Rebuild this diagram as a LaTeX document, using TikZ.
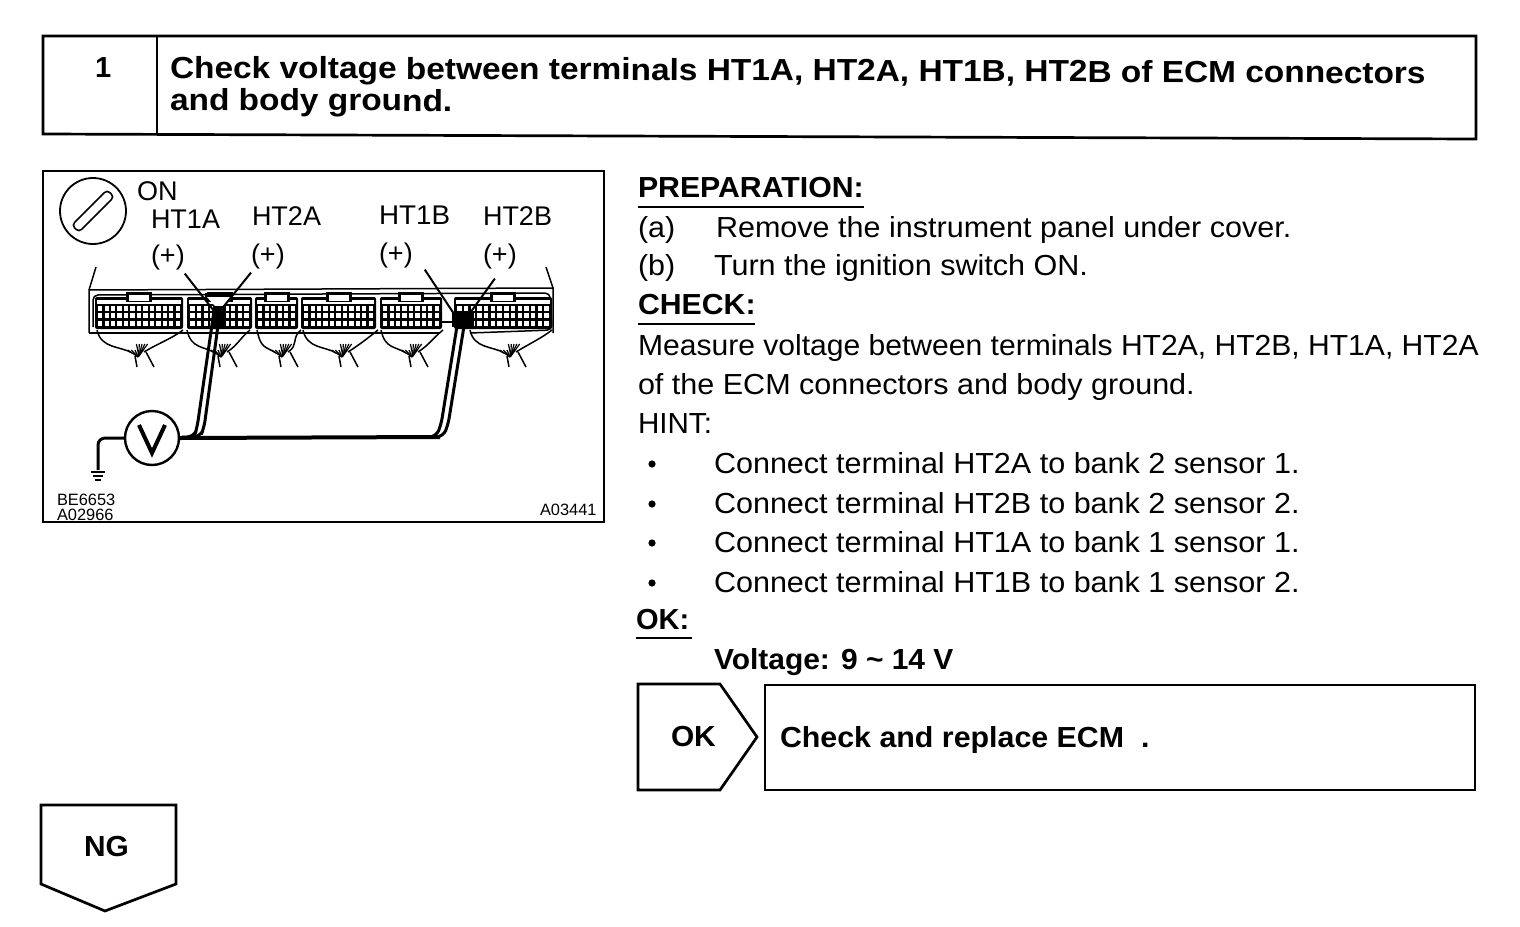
\documentclass[tikz,border=0pt]{standalone}
\usepackage{fontspec}
\setmainfont{Liberation Sans}
\newcommand{\bodyf}{\fontsize{29}{30}\selectfont}
\newcommand{\boldf}{\fontsize{29}{30}\selectfont\bfseries}
\newcommand{\titlef}{\fontsize{30.5}{32}\selectfont\bfseries}
\newcommand{\lblf}{\fontsize{27}{28}\selectfont}
\newcommand{\codef}{\fontsize{16.4}{17}\selectfont}
\newcommand{\wdn}[2]{\scalebox{#1}[1]{#2}}
\tikzset{
  frame/.style={draw=black,line width=2.7,line join=miter},
  txt/.style={anchor=base west,inner sep=0,outer sep=0,text=black},
  rule/.style={draw=black,line width=1.4},
  strand/.style={draw=black,line width=3,line cap=round},
  thin wire/.style={draw=black,line width=1.5},
  lead/.style={draw=black,line width=2},
  cell/.style={fill=white,draw=none}
}
\begin{document}
\begin{tikzpicture}[x=1pt,y=-1pt]
\useasboundingbox (0,0) rectangle (1520,926);
\fill[white] (0,0) rectangle (1520,926);
% header
\draw[frame] (43,36) -- (1476,36) -- (1476,139) -- (43,134) -- cycle;
\draw[frame] (157,36) -- (157,134);
\node[txt,font=\boldf] (num) at (95,77) {1};
\node[txt,font=\titlef,rotate=-0.25] (title1) at (170,78) {\wdn{1.096}{Check voltage between terminals HT1A, HT2A, HT1B, HT2B of ECM connectors}};
\node[txt,font=\titlef,rotate=-0.25] (title2) at (170,110) {\wdn{1.096}{and body ground.}};
% figure frame
\draw[frame] (43,171) rectangle (604,522);
\node[draw=black,circle,line width=1.8,minimum size=66,inner sep=0] (key) at (93,211) {};
\draw[black,line width=1.6,rounded corners=4,rotate around={45:(93,211)}] (68,206) rectangle (118,216);
\node[txt,font=\lblf] (on) at (137,200) {ON};
\node[txt,font=\lblf] (l1) at (151,228) {HT1A};
\node[txt,font=\lblf] (l2) at (252,225) {HT2A};
\node[txt,font=\lblf] (l3) at (379,224) {\wdn{1.03}{HT1B}};
\node[txt,font=\lblf] (l4) at (483,225) {HT2B};
\node[txt,font=\lblf] (p1) at (151,264) {(+)};
\node[txt,font=\lblf] (p2) at (251,263) {(+)};
\node[txt,font=\lblf] (p3) at (379,262) {(+)};
\node[txt,font=\lblf] (p4) at (483,263) {(+)};
% ECU outline
\draw[thin wire] (89,333) -- (89,290) -- (553,288) -- (553,333);
\draw[thin wire] (89,290) -- (96,267);
\draw[thin wire] (553,288) -- (546,267);
\draw[thin wire,rounded corners=5] (93,327) -- (93,295) -- (550,293) -- (552,330) -- (470,333);
\draw[thin wire] (89,333) -- (440,333);
\draw[thin wire] (440,322) -- (455,322);
% connector blocks
\foreach \xa/\xb/\nx in {95/183/13,187/252/9,255/298/6,301/376/11,380/442/9,454/552/14}{
  \fill[black,rounded corners=2] (\xa,297) rectangle (\xb,329);
  \fill[white] ({\xa+2},300) rectangle ({\xb-2},303.5);
  \fill[black] ({(\xa+\xb)/2-13},292) rectangle ({(\xa+\xb)/2+13},302);
  \fill[white] ({(\xa+\xb)/2-10},295) rectangle ({(\xa+\xb)/2+10},301);
  \pgfmathsetmacro{\pitch}{(\xb-\xa-4)/\nx}
  \foreach \rw in {0,1,2}{
    \foreach \cl in {1,...,\nx}{
      \pgfmathsetmacro{\xc}{\xa+2+(\cl-1)*\pitch}
      \fill[cell] ({\xc+1.1},{306+\rw*7.4}) rectangle ({\xc+\pitch-1.1},{311+\rw*7.4});
    }
  }
}
\fill[black] (205,293) rectangle (233,297);
\fill[white] (207,297) -- (231,297) -- (223,306) -- (215,306) -- cycle;
\fill[black] (213,306) rectangle (226,326);
\fill[black] (452,312) rectangle (474,327);
\fill[white] (458,300) rectangle (470,304);
% harness fans
\foreach \xa/\xm/\xb in {97/139/183,187/222/250,257/283/301,303/343/378,381/413/443,470/511/552}{
  \draw[thin wire] (\xa,330) .. controls ({\xa+4},349) and ({\xm-18},346) .. ({\xm-7},353);
  \draw[thin wire] (\xb,330) .. controls ({\xb-10},338) and ({\xm+16},345) .. ({\xm+5},352);
  \draw[thin wire] ({\xm-4},356) -- ({\xm-2},367);
  \draw[thin wire] ({\xm+7},352) -- ({\xm+15},367);
  \foreach \dd in {-8,-4,0,4,8}{
    \draw[black,line width=1.2] (\xm,356) -- ({\xm+\dd*0.7+3},344);
    \draw[black,line width=1.2] ({\xm-1},357) -- ({\xm+\dd*0.9-4},350);
  }
}
% meter
\node[draw=black,circle,line width=2.4,minimum size=54,inner sep=0] (vm) at (152,438) {};
\draw[black,line width=4,line join=miter] (139,425) -- (152,453) -- (165,425);
\coordinate (gnd) at (98,470);
\coordinate (t1) at (214,311);
\coordinate (t2) at (220,311);
\coordinate (t3) at (458,320);
\coordinate (t4) at (465,320);
\coordinate (hr) at (440,437);
\draw[black,line width=3,rounded corners=7] (vm.west) -- (98,438) -- (gnd);
\draw[black,line width=2] (91,472) -- (105,472);
\draw[black,line width=2] (93,476) -- (103,476);
\draw[black,line width=2] (95,480) -- (101,480);
\draw[black,line width=4] (vm.east) -- (hr);
\draw[strand,rounded corners=7] (t1) -- (197,428) -- (194,437) -- (182,437);
\draw[strand,rounded corners=7] (t2) -- (204,428) -- (200,437) -- (190,437);
\draw[strand,rounded corners=7] (t3) -- (441,425) -- (436,437) -- (425,437);
\draw[strand,rounded corners=7] (t4) -- (448,425) -- (443,437) -- (430,437);
% leaders
\draw[lead] (p1.south east) ++(0,4) coordinate (q1) -- (t1);
\draw[lead] (p2.south west) ++(0,4) coordinate (q2) -- (t2);
\draw[lead] (p3.south east) ++(12,2) coordinate (q3) -- (t3);
\draw[lead] (p4.south) ++(-5,10) coordinate (q4) -- (t4);
% codes
\node[txt,font=\codef] (c1) at (57,505) {BE6653};
\node[txt,font=\codef] (c2) at (57,520) {A02966};
\node[txt,font=\codef] (c3) at (540,515) {A03441};
% right text
\node[txt,font=\boldf] (prep) at (638,197) {\wdn{1.043}{PREPARATION:}};
\draw[rule] (638,207) -- (864,207);
\node[txt,font=\bodyf] (a) at (638,237) {\wdn{1.05}{(a)}};
\node[txt,font=\bodyf] (at) at (716,237) {\wdn{1.053}{Remove the instrument panel under cover.}};
\node[txt,font=\bodyf] (b) at (638,275) {\wdn{1.05}{(b)}};
\node[txt,font=\bodyf] (bt) at (714,275) {\wdn{1.053}{Turn the ignition switch ON.}};
\node[txt,font=\boldf] (chk) at (638,314) {\wdn{1.043}{CHECK:}};
\draw[rule] (638,324) -- (755,324);
\node[txt,font=\bodyf] (m1) at (638,355) {\wdn{1.037}{Measure voltage between terminals HT2A, HT2B, HT1A, HT2A}};
\node[txt,font=\bodyf] (m2) at (638,394) {\wdn{1.053}{of the ECM connectors and body ground.}};
\node[txt,font=\bodyf] (hint) at (638,433) {\wdn{1.02}{HINT:}};
\foreach \nm/\yy/\tx in {h1/473/Connect terminal HT2A to bank 2 sensor 1.,h2/513/Connect terminal HT2B to bank 2 sensor 2.,h3/552/Connect terminal HT1A to bank 1 sensor 1.,h4/592/Connect terminal HT1B to bank 1 sensor 2.}{
  \fill[black] (652,{\yy-9}) circle (3.6);
  \node[txt,font=\bodyf] (\nm) at (714,\yy) {\wdn{1.053}{\tx}};
}
\node[txt,font=\boldf] (okh) at (636,629) {\wdn{1.0}{OK:}};
\draw[rule] (636,638) -- (692,638);
\node[txt,font=\boldf] (volt) at (714,669) {\wdn{1.033}{Voltage: 9 \textasciitilde{} 14 V}};
% OK arrow
\draw[frame] (638,684) -- (720,684) -- (757,737) -- (720,790) -- (638,790) -- cycle;
\node[txt,font=\boldf] (ok) at (671,746) {\wdn{1.03}{OK}};
\draw[frame] (765,685) rectangle (1475,790);
\node[txt,font=\boldf] (res) at (780,747) {\wdn{1.047}{Check and replace ECM\ \ .}};
% NG arrow
\draw[frame] (41,805) -- (176,805) -- (176,884) -- (105,911) -- (41,884) -- cycle;
\node[txt,font=\boldf] (ng) at (84,856) {\wdn{1.03}{NG}};
\end{tikzpicture}
\end{document}
